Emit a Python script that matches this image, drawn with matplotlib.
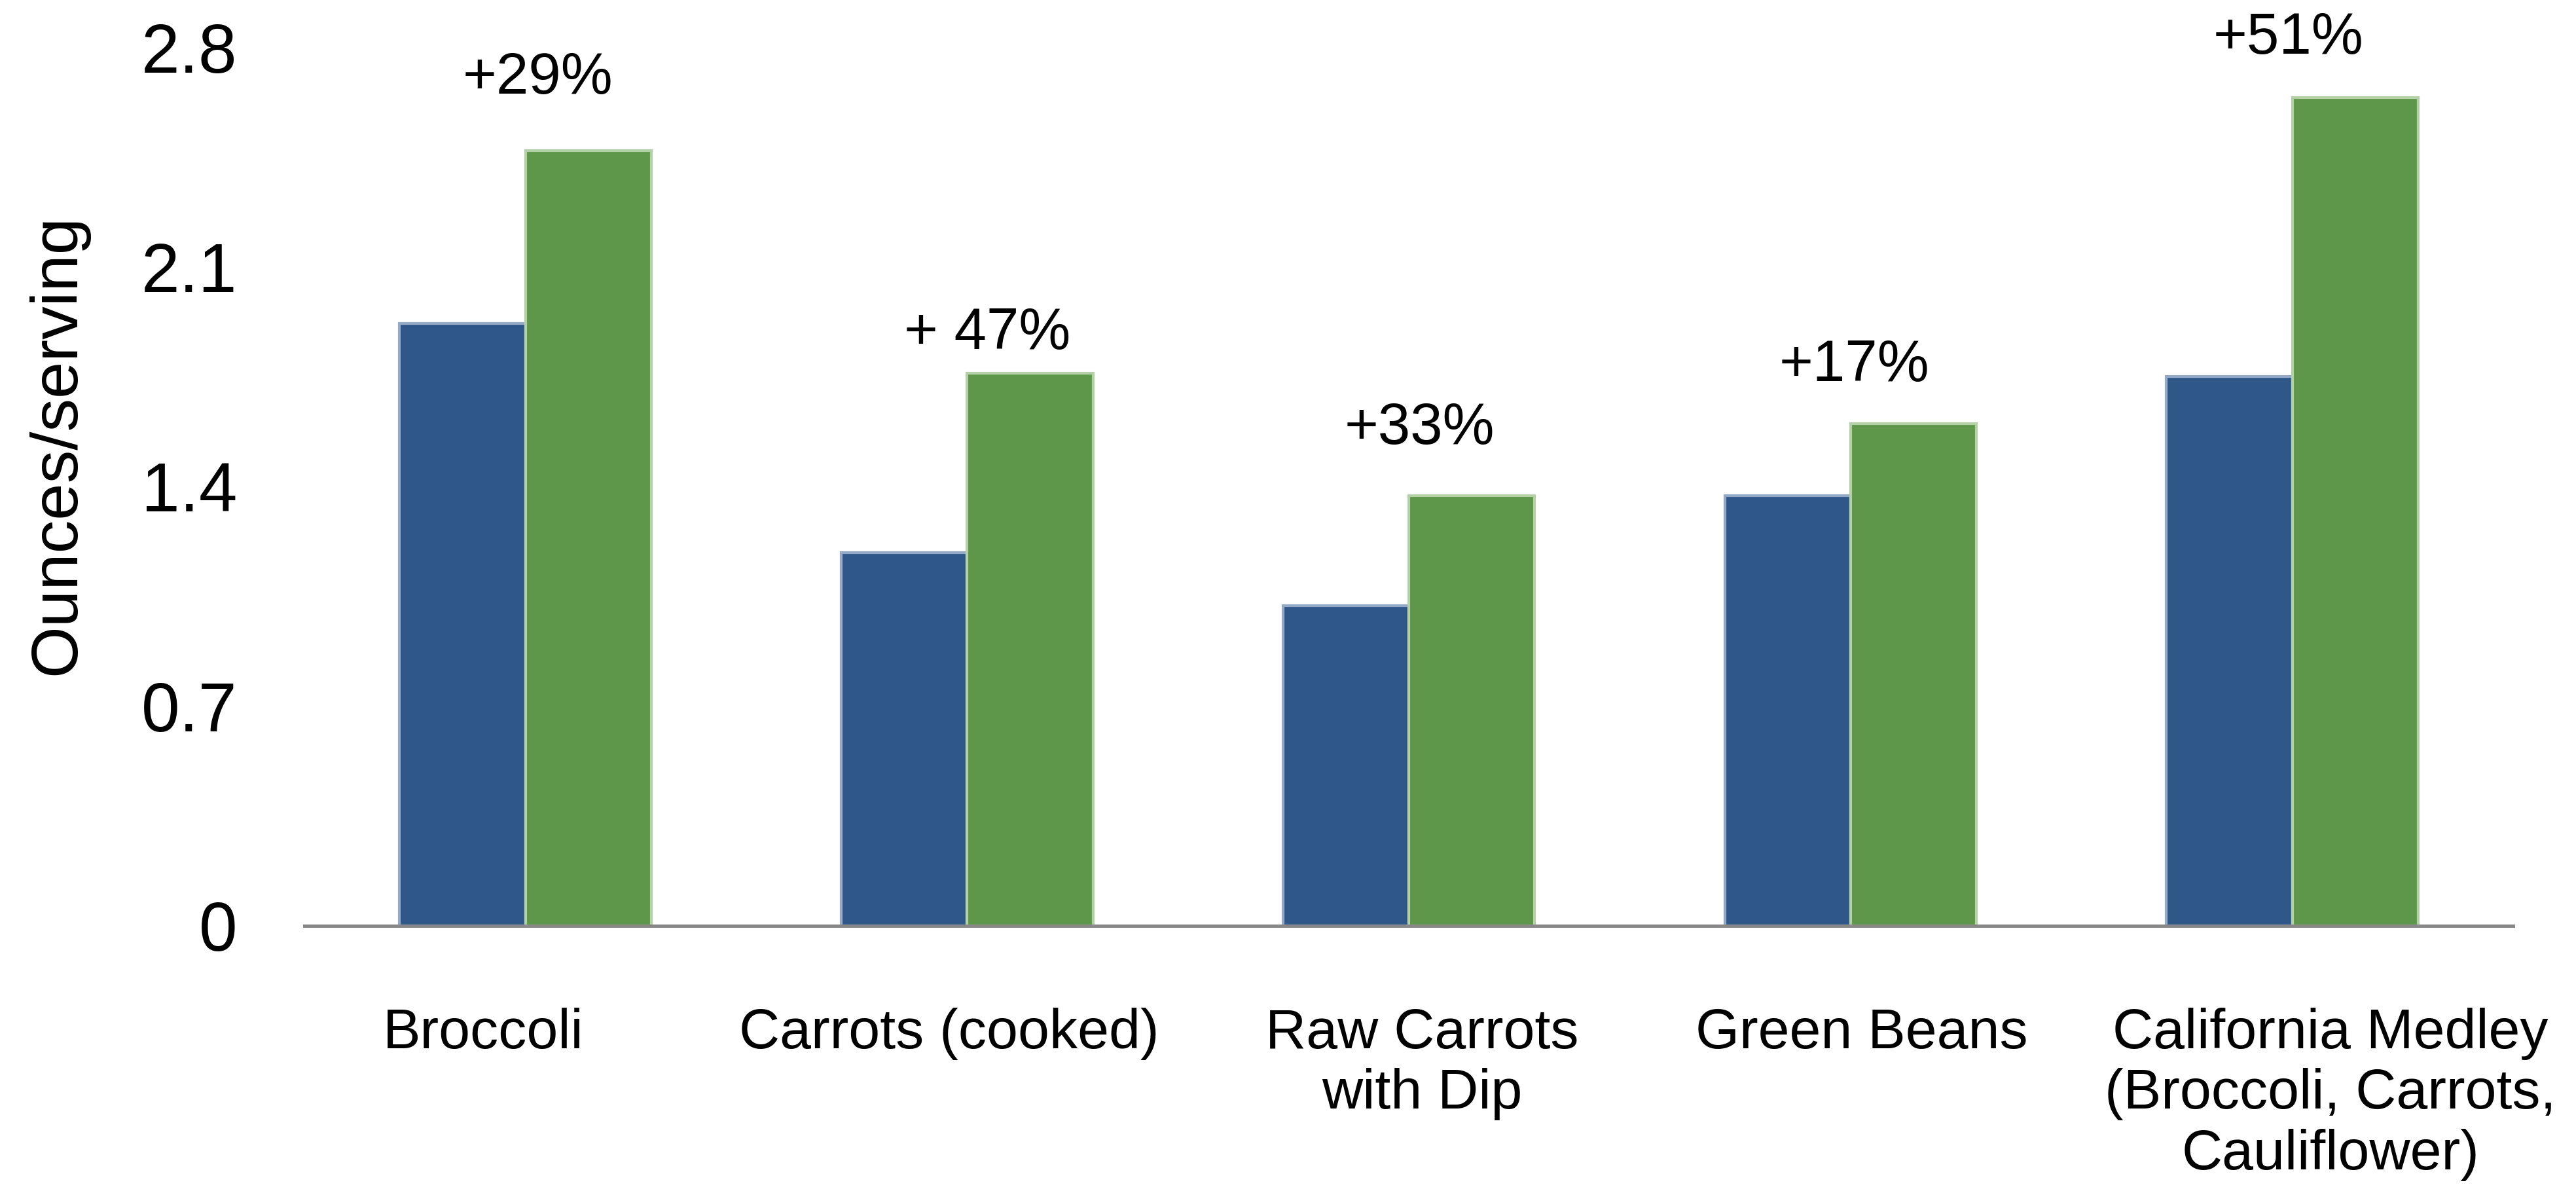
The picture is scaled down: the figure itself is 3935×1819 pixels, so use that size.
import numpy as np
import matplotlib.pyplot as plt

plt.rcParams['font.family'] = ['Liberation Sans', 'DejaVu Sans']

# data
categories = ["Broccoli", "Carrots (cooked)", "Raw Carrots\nwith Dip", "Green Beans",
              "California Medley\n(Broccoli, Carrots,\nCauliflower)"]
before = [1.92, 1.19, 1.02, 1.37, 1.75]
after = [2.47, 1.76, 1.37, 1.60, 2.64]
change_labels = ["+29%", "+ 47%", "+33%", "+17%", "+51%"]
y_ticks = [0, 0.7, 1.4, 2.1, 2.8]
y_tick_labels = ["0", "0.7", "1.4", "2.1", "2.8"]

# layout tweaks for the text boxes
pct_pad_pts = [63, 27, 57, 47, 48]
pct_nudge = [0.028, 0.046, 0.024, 0.009, -0.009]
cat_nudge = [-0.095, -0.04, 0.03, 0.025, 0.086]

blue = "#2F5889"
green = "#5E974A"

fig = plt.figure(figsize=(39.35, 18.19), dpi=100)
ax = fig.add_axes([0.1182, 0.2227, 0.8574, 0.7377])

x = np.arange(len(categories))
w = 0.285
ax.bar(x - w / 2, before, width=w, color=blue, edgecolor="#93A9C6", linewidth=3)
ax.bar(x + w / 2, after, width=w, color=green, edgecolor="#B3D0A6", linewidth=3)

ax.set_xlim(-0.5, 4.5)
ax.set_ylim(0, 2.8)
ax.set_yticks(y_ticks)
ax.set_yticklabels(y_tick_labels, fontsize=76)
ax.tick_params(axis="y", length=0, pad=74)
ax.set_xticks([])

for s in ["top", "right", "left"]:
    ax.spines[s].set_visible(False)
ax.spines["bottom"].set_color("#888888")
ax.spines["bottom"].set_linewidth(3.6)

# percent change above each pair
for i, lab in enumerate(change_labels):
    ax.annotate(lab, xy=(x[i] + pct_nudge[i], after[i]), xytext=(0, pct_pad_pts[i]),
                textcoords="offset points", ha="center", va="baseline",
                fontsize=64, annotation_clip=False)

# category names under the axis
trans = ax.get_xaxis_transform()
for i, lab in enumerate(categories):
    ax.text(x[i] + cat_nudge[i], -0.093, lab, transform=trans, ha="center", va="top",
            fontsize=62, linespacing=1.2, clip_on=False)

fig.text(88 / 3935, 0.627, "Ounces/serving", rotation=90, ha="center", va="center",
         fontsize=73)

fig.savefig("out.png", dpi=100, facecolor="white")
